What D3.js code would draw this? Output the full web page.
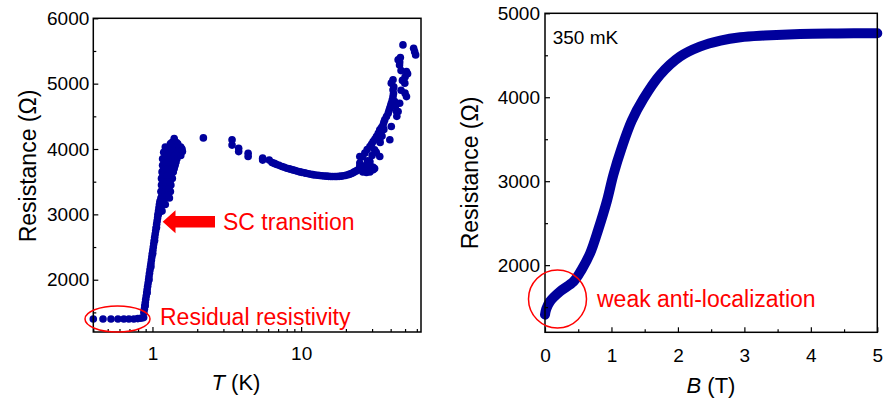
<!DOCTYPE html>
<html><head><meta charset="utf-8">
<script src="https://cdn.jsdelivr.net/npm/d3@7"></script>
<style>
body{margin:0;background:#fff;}
text{font-family:"Liberation Sans",Arial,sans-serif;}
</style></head>
<body><svg id="c" width="887" height="402"></svg>
<script>
// ---- Left panel data: R(T) ----
const tempK = [
 0.40,0.465,0.526,0.586,0.642,0.694,0.749,0.797,0.835,0.872,
 0.875,0.882,0.888,0.895,0.901,0.908,0.915,0.921,0.928,0.935,0.942,0.948,0.955,0.962,0.970,0.977,0.984,0.991,0.998,1.006,1.013,1.020,1.028,1.035,1.043,1.051,1.059,1.067,1.075,1.083,1.090,1.098,1.106,1.114,1.123,
 0.893,0.920,0.947,0.975,1.003,1.033,1.064,1.096,
 1.14,1.18,1.24,1.30,1.14,1.20,1.26,1.32,1.15,1.19,1.25,1.33,1.15,1.21,1.28,1.36,1.16,1.22,1.30,1.38,1.17,1.24,1.32,1.42,1.17,1.25,1.35,1.46,1.19,1.28,1.38,1.50,1.59,1.22,1.30,1.42,1.55,1.35,1.45,1.40,
 1.12,1.16,1.13,1.18,1.22,1.16,1.22,1.28,1.17,1.23,1.29,1.17,1.24,1.31,1.18,1.26,1.33,1.19,1.27,1.35,1.40,1.20,1.29,1.38,1.44,1.22,1.31,1.41,1.48,1.55,1.26,1.34,1.46,1.52,1.58,1.32,1.38,1.48,
 2.2,3.43,3.43,3.8,3.8,4.4,4.4,5.51,5.51,
 6.1,6.37,6.8,7.43,8.0,8.5,9.12,9.8,10.5,11.2,12.0,12.9,13.8,14.8,15.8,16.9,18.0,19.3,20.7,21.8,22.8,24.2,
 6.6,7.1,7.7,8.3,8.8,9.45,10.1,10.8,11.6,12.4,13.3,14.3,15.3,16.3,17.4,18.6,20.0,21.2,22.3,23.5,
 24.8,24.8,24.8,25.5,26.2,26.8,27.5,28.2,29.0,29.7,30.5,31.2,
 26.8,29.0,30.5,32.1,33.8,35.6,36.5,38.5,39.5,40.4,41.5,41.5,40.4,41.5,
 30.5,33.8,39.5,44.9,42.6,43.8,51.1,50.0,49.8,51.1,45.9,44.9,48.4,57.1,58.9,58.0,40.4,33.8,31.2,29.0,24.8,
 25.8,27.8,29.8,31.3,33.0,34.7,36.0,37.5,39.0,40.0,41.0,41.8,42.0,43.0,44.0,46.0,47.0,48.0,47.0,46.5,46.0,52.0,50.0,36.0,34.0,32.0,28.0,26.0,27.5,29.0,30.0,35.0
];
const resLeft = [
 1400,1400,1400,1400,1400,1400,1400,1405,1410,1420,
 1500,1550,1600,1650,1700,1750,1800,1850,1900,1950,2000,2050,2100,2150,2200,2250,2300,2350,2400,2450,2500,2550,2600,2650,2700,2750,2800,2850,2900,2950,3000,3050,3100,3150,3200,
 1600,1800,2000,2200,2400,2600,2800,3000,
 3250,3250,3250,3250,3350,3350,3350,3350,3450,3450,3450,3450,3550,3550,3550,3550,3650,3650,3650,3650,3750,3750,3750,3750,3850,3850,3850,3850,3950,3950,3950,3950,3960,4030,4030,4030,4030,4100,4100,4160,
 3050,3050,3150,3150,3150,3300,3300,3300,3400,3400,3400,3500,3500,3500,3600,3600,3600,3700,3700,3700,3700,3800,3800,3800,3800,3900,3900,3900,3900,3900,4000,4000,4000,4000,4000,4080,4080,4080,
 4170,4140,4060,4010,3960,3935,3885,3860,3830,
 3830,3794,3765,3732,3705,3690,3671,3650,3635,3621,3608,3598,3590,3585,3580,3580,3582,3590,3606,3625,3650,3682,
 3780,3750,3720,3697,3680,3660,3643,3628,3614,3603,3594,3587,3582,3580,3580,3585,3597,3615,3637,3665,
 3885,3784,3720,3700,3732,3690,3760,3700,3760,3682,3720,3700,
 3937,4038,4115,4191,4294,4370,4446,4548,4625,4701,4803,4905,5008,5058,
 3682,3885,4141,4573,4726,4573,4802,4855,5008,5185,5287,5364,5593,5541,5440,5490,4344,4141,3988,3809,3732,
 3880,3990,4075,4150,4240,4330,4410,4497,4590,4660,4750,4850,4950,4650,4500,4700,4900,5050,5200,5400,5330,5150,5100,4300,4100,3950,3820,3650,3640,3650,3900,4200
];
const xTickMajorL = [1, 10];
const xTickMinorL = [0.4,0.5,0.6,0.7,0.8,0.9,2,3,4,5,6,7,8,9,20,30,40,50,60];
const yTickMajorL = [2000,3000,4000,5000,6000];
const yTickMinorL = [1500,2500,3500,4500,5500];

// ---- Right panel data: R(B) at 350 mK ----
const fieldT = [0,0.02,0.075,0.226,0.43,0.55,0.68,0.80,0.93,1.03,1.155,1.305,1.48,1.73,2.03,2.33,2.64,2.94,3.3,3.84,4.4,5.0];
const resRight = [1410,1480,1567,1686,1805,1944,2143,2420,2760,3080,3400,3720,3980,4265,4483,4602,4674,4714,4735,4754,4760,4762];
const xTickMajorR = [0,1,2,3,4,5];
const xTickMinorR = [0.5,1.5,2.5,3.5,4.5];
const yTickMajorR = [2000,3000,4000,5000];
const yTickMinorR = [1500,2500,3500,4500];

const blue = "#00009c", red = "#ff0000";
const svg = d3.select("#c");
svg.append("rect").attr("width",887).attr("height",402).attr("fill","#fff");

function frame(g, x0, x1, y0, y1){
  g.append("rect").attr("x",x0).attr("y",y0).attr("width",x1-x0).attr("height",y1-y0)
   .attr("fill","none").attr("stroke","#000").attr("stroke-width",1.5);
}
function styleAxis(sel, fs){
  sel.select(".domain").remove();
  sel.selectAll(".tick line").attr("stroke","#000").attr("stroke-width",1.2);
  sel.selectAll(".tick text").attr("font-size",fs).attr("fill","#000")
     .attr("font-family","'Liberation Sans',Arial,sans-serif");
}

// ===== Left panel =====
const xL = d3.scaleLog().domain([0.4, 64]).range([93.3, 421]);
const yL = d3.scaleLinear().domain([1200, 6000]).range([332, 18.3]);
const gL = svg.append("g");

gL.append("g").selectAll("circle").data(tempK.map((t,i)=>[t,resLeft[i]])).join("circle")
  .attr("cx",d=>xL(d[0])).attr("cy",d=>yL(d[1])).attr("r",3.8).attr("fill",blue);

frame(gL, 93.3, 421, 18.3, 332);
styleAxis(gL.append("g").attr("transform","translate(0,332)")
  .call(d3.axisBottom(xL).tickValues(xTickMajorL).tickFormat(d3.format("d")).tickSize(-5).tickPadding(15)),19);
styleAxis(gL.append("g").attr("transform","translate(0,332)")
  .call(d3.axisBottom(xL).tickValues(xTickMinorL).tickFormat("").tickSize(-3)),19);
styleAxis(gL.append("g").attr("transform","translate(93.3,0)")
  .call(d3.axisLeft(yL).tickValues(yTickMajorL).tickFormat(d3.format("d")).tickSize(-5).tickPadding(4)),19);
styleAxis(gL.append("g").attr("transform","translate(93.3,0)")
  .call(d3.axisLeft(yL).tickValues(yTickMinorL).tickFormat("").tickSize(-3)),19);

gL.append("text").attr("transform","translate(36,166) rotate(-90)").attr("text-anchor","middle")
  .attr("font-size",23).text("Resistance (Ω)");
const tl = gL.append("text").attr("x",236).attr("y",390).attr("text-anchor","middle").attr("font-size",22);
tl.append("tspan").attr("font-style","italic").text("T");
tl.append("tspan").text(" (K)");

// annotations left
gL.append("ellipse").attr("cx",117.5).attr("cy",319).attr("rx",32.5).attr("ry",13)
  .attr("fill","none").attr("stroke",red).attr("stroke-width",1.5);
gL.append("text").attr("x",160).attr("y",325).attr("font-size",23).attr("fill",red).text("Residual resistivity");
gL.append("path").attr("d","M162.7,221.7 L175.5,210.2 L175.5,216 L215,216 L215,227.4 L175.5,227.4 L175.5,233.2 Z").attr("fill",red);
gL.append("text").attr("x",223).attr("y",230).attr("font-size",23).attr("fill",red).text("SC transition");

// ===== Right panel =====
const xR = d3.scaleLinear().domain([0,5]).range([545, 877.3]);
const yR = d3.scaleLinear().domain([1200,5000]).range([332.3, 13.3]);
const gR = svg.append("g");

const line = d3.line().x(d=>xR(d[0])).y(d=>yR(d[1])).curve(d3.curveCatmullRom.alpha(0.5));
gR.append("path").datum(fieldT.map((b,i)=>[b,resRight[i]])).attr("d",line)
  .attr("fill","none").attr("stroke",blue).attr("stroke-width",10)
  .attr("stroke-linecap","round").attr("stroke-linejoin","round");

frame(gR, 545, 877.3, 13.3, 332.3);
styleAxis(gR.append("g").attr("transform","translate(0,332.3)")
  .call(d3.axisBottom(xR).tickValues(xTickMajorR).tickFormat(d3.format("d")).tickSize(-5).tickPadding(16)),19);
styleAxis(gR.append("g").attr("transform","translate(0,332.3)")
  .call(d3.axisBottom(xR).tickValues(xTickMinorR).tickFormat("").tickSize(-3)),19);
styleAxis(gR.append("g").attr("transform","translate(545,0)")
  .call(d3.axisLeft(yR).tickValues(yTickMajorR).tickFormat(d3.format("d")).tickSize(-5).tickPadding(5)),19);
styleAxis(gR.append("g").attr("transform","translate(545,0)")
  .call(d3.axisLeft(yR).tickValues(yTickMinorR).tickFormat("").tickSize(-3)),19);

gR.append("text").attr("transform","translate(477.5,173) rotate(-90)").attr("text-anchor","middle")
  .attr("font-size",23).text("Resistance (Ω)");
const bl = gR.append("text").attr("x",711).attr("y",393).attr("text-anchor","middle").attr("font-size",22);
bl.append("tspan").attr("font-style","italic").text("B");
bl.append("tspan").text(" (T)");

gR.append("text").attr("x",552.7).attr("y",43.5).attr("font-size",19).attr("fill","#000").text("350 mK");
gR.append("circle").attr("cx",557.5).attr("cy",299).attr("r",29)
  .attr("fill","none").attr("stroke",red).attr("stroke-width",1.5);
gR.append("text").attr("x",597).attr("y",306.7).attr("font-size",23).attr("fill",red).text("weak anti-localization");
</script></body></html>
